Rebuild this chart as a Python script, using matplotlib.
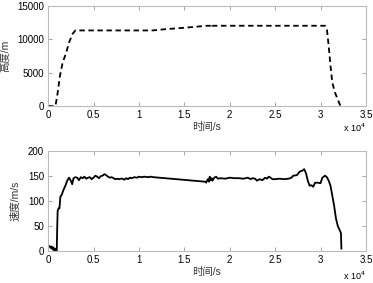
import numpy as np
import matplotlib.pyplot as plt
from matplotlib.ticker import FuncFormatter

plt.rcParams['font.family'] = ['Liberation Sans', 'Noto Sans CJK SC']

# altitude (m) vs time (s)
t_alt = [0, 800, 1000, 1300, 1600, 2000, 2300, 2700, 3000, 7000, 11500, 13000,
         15000, 17500, 17900, 18000, 18100, 30500, 30700, 30900, 31100, 31300,
         31600, 31900, 32200]
alt = [0, 0, 1500, 4500, 6500, 8000, 9500, 10800, 11300, 11300, 11300, 11500,
       11700, 12000, 12000, 12300, 12000, 12000, 11500, 9000, 6000, 3500,
       2000, 1000, 0]

# speed (m/s) vs time (s)
t_spd = [0, 150, 300, 400, 500, 600, 700, 800, 900, 950, 1000, 1050, 1150, 1250,
         1350, 1500, 1700, 1900, 2100, 2300, 2500, 2650, 2800, 3000, 3200, 3400,
         3600, 3800, 4000, 4200, 4400, 4600, 4800, 5000, 5200, 5400, 5600, 5800,
         6000, 6200, 6400, 6600, 6800, 7000, 7200, 7400, 7600, 7800, 8000, 8200,
         8400, 8600, 8800, 9000, 9200, 9500, 9800, 10000, 10300, 10600, 11000,
         11300, 11600, 17300, 17400, 17500, 17600, 17700, 17800, 17900, 18000,
         18100, 18300, 18500, 18700, 19000, 19500, 20000, 20500, 21000, 21500,
         22000, 22300, 22500, 22800, 23000, 23300, 23600, 23900, 24100, 24300,
         24500, 24700, 25000, 25500, 26000, 26500, 26800, 27000, 27400, 27700,
         28000, 28200, 28400, 28600, 28800, 29000, 29200, 29400, 29700, 30000,
         30200, 30500, 30700, 30900, 31100, 31300, 31500, 31700, 31900, 32100,
         32200, 32250, 32300]
spd = [8, 10, 6, 9, 3, 7, 0, 4, 0, 0, 45, 80, 85, 85,
       108, 112, 122, 130, 140, 146, 140, 133, 145, 147, 146, 141,
       147, 145, 148, 144, 146, 147, 143, 146, 150, 148, 145, 149,
       150, 153, 151, 148, 146, 147, 145, 143, 144, 143, 144, 144,
       142, 145, 143, 146, 145, 147, 146, 148, 147, 148, 147,
       148, 147, 138, 136, 140, 143, 138, 148, 141, 145,
       140, 146, 148, 144, 145, 144, 146, 145, 145, 144,
       146, 143, 145, 144, 140, 143, 141, 146, 144, 148,
       146, 143, 143, 144, 143, 144, 146, 150, 151, 158,
       160, 163, 155, 140, 130, 131, 128, 136, 136, 135,
       146, 150, 147, 140, 130, 110, 90, 65, 50, 42,
       38, 35, 5]

fig = plt.figure(figsize=(3.73, 2.83), dpi=100)
ax1 = fig.add_axes([0.129, 0.625, 0.852, 0.355])
ax2 = fig.add_axes([0.129, 0.113, 0.852, 0.355])

ax1.plot(t_alt, alt, 'k--', lw=1.3, dashes=(3, 2))
ax2.plot(t_spd, spd, 'k-', lw=1.3)

fmt = FuncFormatter(lambda v, p: ('%g' % (v / 1e4)))
for ax, yl, ylim, yt, oy in [(ax1, '高度/m', (0, 15000), [0, 5000, 10000, 15000], -0.22),
                             (ax2, '速度/m/s', (0, 200), [0, 50, 100, 150, 200], -0.245)]:
    ax.set_xlim(0, 35000)
    ax.set_ylim(*ylim)
    ax.set_yticks(yt)
    ax.set_xticks(np.arange(0, 35001, 5000))
    ax.xaxis.set_major_formatter(fmt)
    ax.tick_params(direction='in', top=True, right=True, length=3, width=0.6,
                   labelsize=7, color='#999999', pad=3)
    for s in ax.spines.values():
        s.set_color('#bbbbbb')
        s.set_linewidth(0.8)
    ax.set_ylabel(yl, fontsize=7.5, color='#333333', labelpad=5)
    ax.set_xlabel('时间/s', fontsize=7.5, color='#333333', labelpad=1)
    ax.text(1.0, oy, 'x 10$^4$', transform=ax.transAxes, fontsize=6.5,
            ha='right', va='center')

fig.savefig('out.png', dpi=100)
